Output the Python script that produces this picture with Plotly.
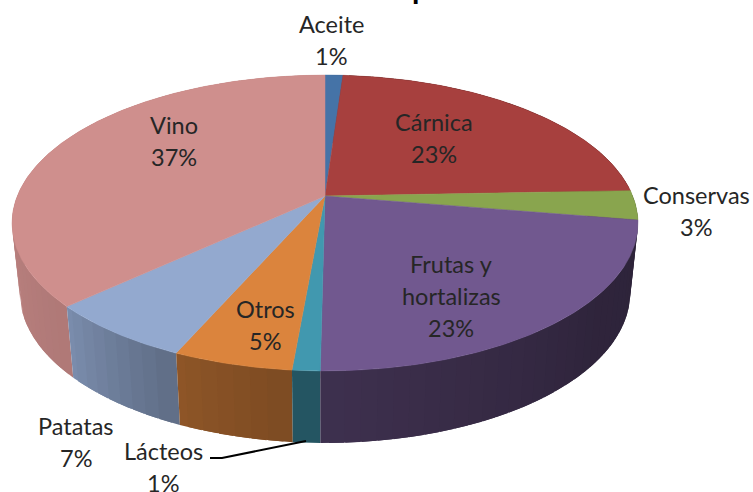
import numpy as np
import plotly.graph_objects as go

categories = ["Aceite", "Cárnica", "Conservas", "Frutas y<br>hortalizas", "Lácteos", "Otros", "Patatas", "Vino"]
shares = [1.1, 23.3, 3.2, 22.6, 1.2, 5.2, 6.55, 36.85]

top_colors = ["#4573a7", "#a7403e", "#89a54e", "#71588f", "#4198af", "#db843d", "#93a9cf", "#cf8f8d"]
label_xy = [(331, 40), (434, 138), (696, 211), (451, 296), (163, 467), (265, 325), (76, 442), (174, 141)]
LINE_STEP = 32

# Perspective projection of the tilted cylinder onto the page
K = 0.1825
TOP = dict(x0=325.0, y0=196.0, a=307.7, b=143.0)
BASE = dict(x0=325.0, y0=265.6, a=300.0, b=145.0)
# Shading of the side wall as a function of angle (degrees clockwise from 12 o'clock)
SHADE_DEG = [0, 90, 130, 180, 205, 228, 260, 290, 360]
SHADE_VAL = [0.5, 0.40, 0.42, 0.55, 0.66, 0.85, 0.90, 0.92, 0.92]


def project(theta, p):
    u, v = np.sin(theta), np.cos(theta)
    w = 1 + K * v
    return p["x0"] + p["a"] * u / w, p["y0"] - p["b"] * v / w


def shade(hex_color, f):
    rgb = [int(hex_color[i:i + 2], 16) for i in (1, 3, 5)]
    return "rgb({},{},{})".format(*[int(c * f) for c in rgb])


fig = go.Figure()
edges = np.cumsum([0] + shares) / sum(shares) * 2 * np.pi

# Side walls, back to front; strips overlap inside a slice to hide seams
strips = []
overlap = np.radians(1.2)
for i, col in enumerate(top_colors):
    a0, a1 = edges[i], edges[i + 1]
    n = max(1, int(np.degrees(a1 - a0) / 2.5))
    bounds = np.linspace(a0, a1, n + 1)
    for s in range(n):
        strips.append((bounds[s], bounds[s + 1], col, max(a0, bounds[s] - overlap), min(a1, bounds[s + 1] + overlap)))
strips.sort(key=lambda t: -np.cos((t[0] + t[1]) / 2))
for a0, a1, col, e0, e1 in strips:
    t = np.linspace(e0, e1, 6)
    xt, yt = project(t, TOP)
    xb, yb = project(t[::-1], BASE)
    f = float(np.interp(np.degrees((a0 + a1) / 2), SHADE_DEG, SHADE_VAL))
    c = shade(col, f)
    fig.add_trace(go.Scatter(
        x=np.r_[xt, xb, xt[0]], y=np.r_[yt, yb, yt[0]], mode="lines",
        fill="toself", fillcolor=c, line=dict(color=c, width=0),
        hoverinfo="skip", showlegend=False))

# Top faces
for i, col in enumerate(top_colors):
    t = np.linspace(edges[i], edges[i + 1], max(3, int(np.degrees(edges[i + 1] - edges[i]) * 2)))
    x, y = project(t, TOP)
    fig.add_trace(go.Scatter(
        x=np.r_[TOP["x0"], x, TOP["x0"]], y=np.r_[TOP["y0"], y, TOP["y0"]], mode="lines",
        fill="toself", fillcolor=col, line=dict(color=col, width=0.5),
        name=categories[i].replace("<br>", " "), hoverinfo="name", showlegend=False))

# Leader line for Lácteos
fig.add_trace(go.Scatter(x=[210, 222, 306], y=[458, 458, 441], mode="lines",
                         line=dict(color="black", width=2), hoverinfo="skip", showlegend=False))

for cat, val, (lx, ly) in zip(categories, shares, label_xy):
    lines = cat.split("<br>") + [f"{val:.0f}%"]
    for j, line in enumerate(lines):
        fig.add_annotation(x=lx, y=ly + (j - (len(lines) - 1) / 2) * LINE_STEP, xref="x", yref="y",
                           showarrow=False, text=line, align="center",
                           font=dict(family="Lato, Carlito, sans-serif", size=23.5, color="#262626"))

# Remnant of the cropped chart title
fig.add_annotation(x=414.5 / 753, y=1 + 33 / 492, xref="paper", yref="paper", showarrow=False,
                   text="<b>p</b>", xshift=6,
                   font=dict(family="Lato, sans-serif", size=30, color="black"))

fig.update_layout(
    width=753, height=492, margin=dict(l=0, r=0, t=0, b=0),
    paper_bgcolor="white", plot_bgcolor="white", showlegend=False,
    xaxis=dict(range=[0, 753], visible=False, fixedrange=True),
    yaxis=dict(range=[492, 0], visible=False, fixedrange=True),
)
fig.write_html("out.html", config=dict(displayModeBar=False),
               post_script="document.body.style.margin='0';document.body.style.overflow='hidden';")
